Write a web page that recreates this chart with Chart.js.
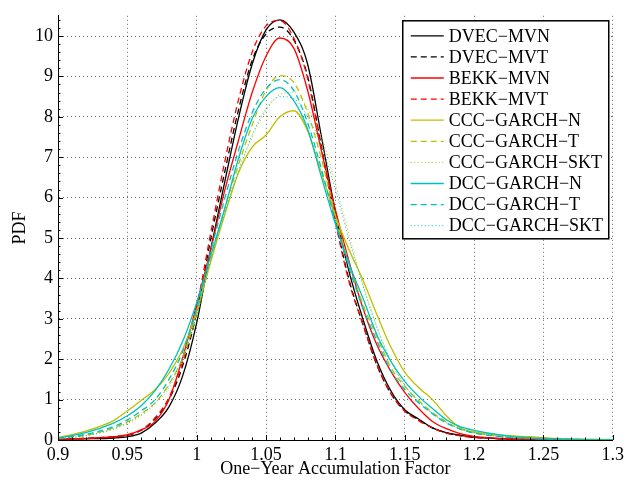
<!DOCTYPE html>
<html>
<head>
<meta charset="utf-8">
<script src="https://cdn.jsdelivr.net/npm/chart.js@4.4.0/dist/chart.umd.min.js"></script>
<style>
  html, body { margin: 0; padding: 0; background: #fff; }
</style>
</head>
<body>
<canvas id="pdfChart" width="628" height="485"></canvas>
<script>
// x grid of the kernel density estimates (one-year accumulation factor)
const accumFactor = [0.90, 0.92, 0.94, 0.95, 0.96, 0.97, 0.98, 0.99, 1.00, 1.01, 1.02, 1.03, 1.04, 1.05, 1.06, 1.07, 1.08, 1.09, 1.10, 1.11, 1.12, 1.13, 1.14, 1.15, 1.16, 1.17, 1.18, 1.19, 1.20, 1.22, 1.24, 1.26, 1.28, 1.30];

// PDF values
const dvecMvn = [0.02, 0.03, 0.05, 0.08, 0.17, 0.42, 0.82, 1.60, 2.90, 4.70, 6.35, 7.95, 9.30, 10.15, 10.40, 10.10, 9.30, 7.50, 5.65, 4.15, 2.98, 1.95, 1.22, 0.75, 0.52, 0.30, 0.18, 0.12, 0.07, 0.03, 0.02, 0.01, 0.00, 0.00];
const dvecMvt = [0.02, 0.04, 0.08, 0.12, 0.24, 0.52, 1.00, 1.85, 3.15, 4.95, 6.60, 8.15, 9.40, 10.05, 10.22, 9.90, 9.00, 7.25, 5.45, 3.95, 2.85, 1.85, 1.15, 0.72, 0.50, 0.30, 0.18, 0.11, 0.07, 0.03, 0.02, 0.01, 0.00, 0.00];
const bekkMvn = [0.02, 0.04, 0.08, 0.13, 0.25, 0.46, 1.00, 2.05, 3.35, 4.70, 6.15, 7.40, 8.60, 9.50, 9.95, 9.70, 8.65, 7.15, 5.70, 4.40, 3.25, 2.35, 1.70, 1.18, 0.78, 0.46, 0.28, 0.16, 0.09, 0.04, 0.02, 0.01, 0.00, 0.00];
const bekkMvt = [0.02, 0.04, 0.08, 0.12, 0.25, 0.55, 1.05, 1.95, 3.30, 5.10, 6.85, 8.40, 9.60, 10.25, 10.38, 9.95, 8.95, 7.20, 5.40, 3.90, 2.85, 1.85, 1.15, 0.72, 0.48, 0.30, 0.17, 0.10, 0.06, 0.03, 0.01, 0.01, 0.00, 0.00];
const cccGarchN = [0.06, 0.22, 0.48, 0.72, 0.98, 1.25, 1.65, 2.25, 3.20, 4.40, 5.55, 6.60, 7.25, 7.55, 8.00, 8.15, 7.65, 6.60, 5.55, 4.70, 3.95, 3.10, 2.30, 1.68, 1.30, 1.00, 0.60, 0.30, 0.20, 0.12, 0.08, 0.04, 0.02, 0.01];
const cccGarchT = [0.04, 0.12, 0.30, 0.45, 0.65, 0.92, 1.38, 2.05, 3.15, 4.45, 5.70, 6.80, 7.80, 8.65, 9.02, 8.85, 8.10, 6.95, 5.55, 4.35, 3.35, 2.55, 1.80, 1.33, 0.98, 0.68, 0.45, 0.28, 0.18, 0.09, 0.05, 0.03, 0.01, 0.00];
const cccGarchSkt = [0.03, 0.10, 0.26, 0.40, 0.60, 0.88, 1.30, 1.98, 3.05, 4.40, 5.55, 6.60, 7.50, 8.15, 8.55, 8.60, 8.20, 7.50, 6.35, 5.05, 3.85, 2.80, 1.95, 1.35, 0.95, 0.65, 0.43, 0.27, 0.17, 0.08, 0.04, 0.02, 0.01, 0.00];
const dccGarchN = [0.05, 0.18, 0.42, 0.60, 0.85, 1.22, 1.75, 2.45, 3.40, 4.55, 5.70, 6.95, 7.95, 8.50, 8.72, 8.40, 7.70, 6.50, 5.35, 4.35, 3.50, 2.60, 1.95, 1.45, 1.08, 0.78, 0.50, 0.33, 0.24, 0.12, 0.05, 0.03, 0.01, 0.00];
const dccGarchT = [0.04, 0.14, 0.33, 0.50, 0.72, 1.00, 1.50, 2.20, 3.25, 4.65, 5.95, 7.15, 8.10, 8.70, 8.92, 8.65, 7.85, 6.70, 5.40, 4.25, 3.25, 2.45, 1.72, 1.25, 0.92, 0.65, 0.42, 0.27, 0.17, 0.08, 0.04, 0.02, 0.01, 0.00];
const dccGarchSkt = [0.03, 0.11, 0.28, 0.43, 0.63, 0.92, 1.36, 2.05, 3.10, 4.45, 5.60, 6.65, 7.55, 8.20, 8.50, 8.45, 8.00, 7.30, 6.20, 4.95, 3.80, 2.78, 1.95, 1.36, 0.96, 0.66, 0.44, 0.28, 0.18, 0.09, 0.04, 0.02, 0.01, 0.00];

const seriesLabels = ['DVEC\u2212MVN', 'DVEC\u2212MVT', 'BEKK\u2212MVN', 'BEKK\u2212MVT',
    'CCC\u2212GARCH\u2212N', 'CCC\u2212GARCH\u2212T', 'CCC\u2212GARCH\u2212SKT',
    'DCC\u2212GARCH\u2212N', 'DCC\u2212GARCH\u2212T', 'DCC\u2212GARCH\u2212SKT'];
const seriesValues = [dvecMvn, dvecMvt, bekkMvn, bekkMvt, cccGarchN, cccGarchT, cccGarchSkt, dccGarchN, dccGarchT, dccGarchSkt];

const xTicks = [0.9, 0.95, 1, 1.05, 1.1, 1.15, 1.2, 1.25, 1.3];
const yTicks = [0, 1, 2, 3, 4, 5, 6, 7, 8, 9, 10];

const FONT = '"Liberation Serif", "Times New Roman", serif';

// matlab-ish line styles
const lineStyles = [
    { color: '#000000', dash: [] },
    { color: '#000000', dash: [6, 4] },
    { color: '#ff0000', dash: [] },
    { color: '#ff0000', dash: [6, 4] },
    { color: '#bfbf00', dash: [] },
    { color: '#bfbf00', dash: [6, 4] },
    { color: '#bfbf00', dash: [1, 2.5] },
    { color: '#00bfbf', dash: [] },
    { color: '#00bfbf', dash: [6, 4] },
    { color: '#00bfbf', dash: [1, 2.5] },
];

const datasets = seriesValues.map((vals, i) => ({
    label: seriesLabels[i],
    data: accumFactor.map((x, j) => ({ x: x, y: vals[j] })),
    borderColor: lineStyles[i].color,
    borderDash: lineStyles[i].dash,
    borderWidth: lineStyles[i].dash.length && lineStyles[i].dash[0] === 1 ? 1 : 1.3,
    pointRadius: 0,
    fill: false,
    cubicInterpolationMode: 'monotone',
    order: seriesValues.length - i, // later series on top, like matlab
}));

// inward major/minor ticks + boxed legend inside the axes
const matlabAxes = {
    id: 'matlabAxes',
    afterDatasetsDraw(chart) {
        const ctx = chart.ctx;
        const xs = chart.scales.x;
        const ys = chart.scales.y;
        const area = chart.chartArea;
        ctx.save();
        ctx.strokeStyle = '#000';
        ctx.lineWidth = 1;
        ctx.beginPath();
        for (let k = 0; k <= 40; k++) {
            const px = Math.round(xs.getPixelForValue(0.9 + k * 0.01)) + 0.5;
            const len = (k % 5 === 0) ? 5 : 2.5;
            ctx.moveTo(px, area.bottom);
            ctx.lineTo(px, area.bottom - len);
        }
        for (let k = 0; k <= 52; k++) {
            const py = Math.round(ys.getPixelForValue(k * 0.2)) + 0.5;
            const len = (k % 5 === 0) ? 5 : 2.5;
            ctx.moveTo(area.left, py);
            ctx.lineTo(area.left + len, py);
        }
        ctx.stroke();
        ctx.restore();
    },
    afterDraw(chart) {
        const ctx = chart.ctx;
        const area = chart.chartArea;
        const rowH = 21.1;
        const boxRight = area.right - 4;
        const boxLeft = boxRight - 206;
        const boxTop = area.top + 5;
        const boxBottom = boxTop + 218;
        ctx.save();
        ctx.fillStyle = '#fff';
        ctx.fillRect(boxLeft, boxTop, boxRight - boxLeft, boxBottom - boxTop);
        ctx.strokeStyle = '#000';
        ctx.lineWidth = 1.5;
        ctx.strokeRect(boxLeft, boxTop, boxRight - boxLeft, boxBottom - boxTop);
        chart.data.datasets.forEach((ds, i) => {
            const y = boxTop + 15 + i * rowH;
            ctx.beginPath();
            ctx.setLineDash(ds.borderDash || []);
            ctx.strokeStyle = ds.borderColor;
            ctx.lineWidth = ds.borderWidth;
            ctx.moveTo(boxLeft + 8, y);
            ctx.lineTo(boxLeft + 41, y);
            ctx.stroke();
            ctx.setLineDash([]);
            ctx.fillStyle = '#000';
            ctx.font = '18px ' + FONT;
            ctx.textBaseline = 'middle';
            ctx.textAlign = 'left';
            ctx.fillText(ds.label, boxLeft + 46, y + 1);
        });
        ctx.restore();
    }
};

const ctx = document.getElementById('pdfChart').getContext('2d');
const pdfChart = new Chart(ctx, {
    type: 'line',
    data: { datasets: datasets },
    plugins: [matlabAxes],
    options: {
        responsive: false,
        animation: false,
        devicePixelRatio: 1,
        layout: { padding: { top: 5, right: 14, left: 0, bottom: 0 } },
        plugins: {
            legend: { display: false },
            tooltip: { enabled: false },
        },
        scales: {
            x: {
                type: 'linear',
                min: 0.9,
                max: 1.3,
                afterFit: function(scale) { scale.height = 45; },
                afterBuildTicks: function(scale) { scale.ticks = xTicks.map(v => ({ value: v })); },
                ticks: {
                    color: '#000',
                    font: { family: FONT, size: 18 },
                    padding: 4,
                    maxRotation: 0,
                    autoSkip: false,
                    callback: function(value) { return String(Math.round(value * 100) / 100); }
                },
                grid: { color: 'rgba(0,0,0,0.6)', lineWidth: 1, drawTicks: false },
                border: { display: true, color: '#000', width: 1, dash: [1, 3] },
                title: {
                    display: true,
                    text: 'One\u2212Year Accumulation Factor',
                    color: '#000',
                    font: { family: FONT, size: 18 },
                    padding: { top: 0, bottom: 5 }
                }
            },
            y: {
                type: 'linear',
                min: 0,
                max: 10.5,
                afterFit: function(scale) { scale.width = 58; },
                afterBuildTicks: function(scale) { scale.ticks = yTicks.map(v => ({ value: v })); },
                ticks: {
                    color: '#000',
                    font: { family: FONT, size: 18 },
                    padding: 5,
                    autoSkip: false,
                },
                grid: { color: 'rgba(0,0,0,0.6)', lineWidth: 1, drawTicks: false },
                border: { display: true, color: '#000', width: 1, dash: [1, 3] },
                title: {
                    display: true,
                    text: 'PDF',
                    color: '#000',
                    font: { family: FONT, size: 18 },
                    padding: { top: 9, bottom: 0 }
                }
            }
        }
    }
});
</script>
</body>
</html>
